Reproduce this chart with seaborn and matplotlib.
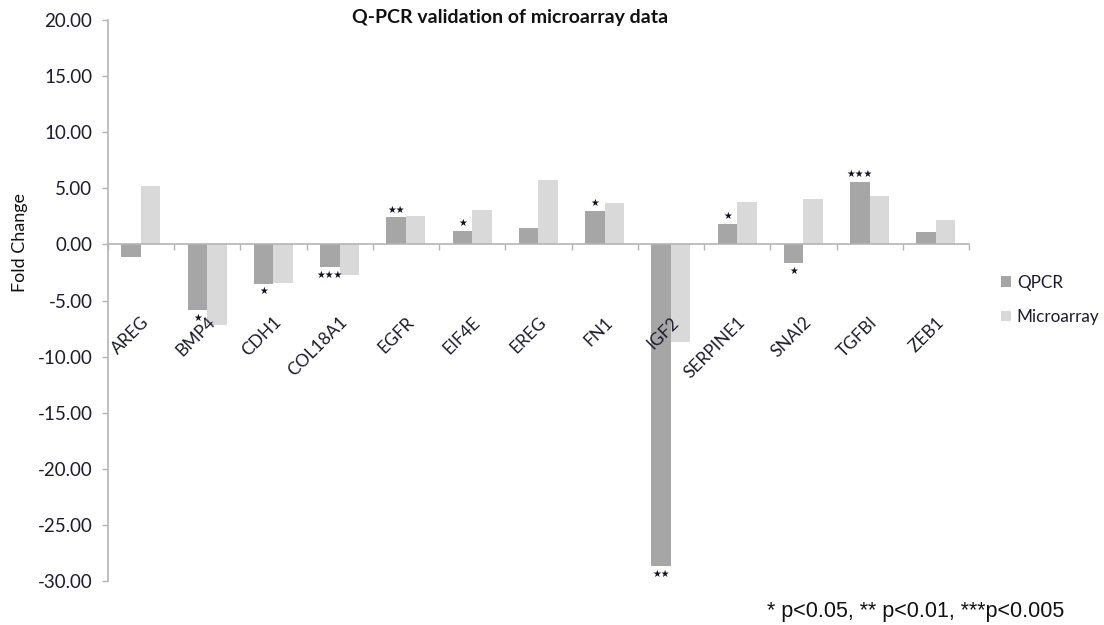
import matplotlib
matplotlib.use("Agg")
import matplotlib.pyplot as plt
from matplotlib.patches import Patch
from matplotlib.ticker import FormatStrFormatter, FixedLocator, NullFormatter
import seaborn as sns
import pandas as pd

# Fold change per gene, QPCR vs microarray
genes = ["AREG", "BMP4", "CDH1", "COL18A1", "EGFR", "EIF4E", "EREG",
         "FN1", "IGF2", "SERPINE1", "SNAI2", "TGFBI", "ZEB1"]
qpcr = [-1.15, -5.88, -3.50, -2.05, 2.41, 1.19, 1.46,
        3.00, -28.70, 1.84, -1.66, 5.58, 1.07]
microarray = [5.17, -7.18, -3.47, -2.76, 2.56, 3.09, 5.70,
              3.72, -8.67, 3.77, 4.01, 4.30, 2.17]
# significance of the QPCR change
significance = ["", "*", "*", "***", "**", "*", "",
                "*", "**", "*", "*", "***", ""]
methods = ["QPCR", "Microarray"]
yticks = [20, 15, 10, 5, 0, -5, -10, -15, -20, -25, -30]

colors = {"QPCR": "#A6A6A6", "Microarray": "#D9D9D9"}
text_color = "#1c1c2c"
axis_color = "#B4B4B4"

df = pd.DataFrame({
    "gene": genes * 2,
    "fold": qpcr + microarray,
    "method": ["QPCR"] * len(genes) + ["Microarray"] * len(genes),
})

sns.set_theme(style="white")
plt.rcParams["font.family"] = ["Lato", "DejaVu Sans"]

fig = plt.figure(figsize=(11.04, 6.25), dpi=100)
ax = fig.add_axes([107.75 / 1104, 1 - 581 / 625, (969 - 107.75) / 1104, 561 / 625])

sns.barplot(data=df, x="gene", y="fold", hue="method", hue_order=methods,
            order=genes, palette=colors, width=0.59, errorbar=None,
            linewidth=0, saturation=1, legend=False, ax=ax)

ax.set_xlim(-0.5, len(genes) - 0.5)
ax.set_ylim(-30, 20)
ax.set_xlabel("")
ax.set_ylabel("")

# spines: category axis crosses at zero
for side in ["top", "right"]:
    ax.spines[side].set_visible(False)
ax.spines["bottom"].set_position(("data", 0))
for side in ["left", "bottom"]:
    ax.spines[side].set_color(axis_color)
    ax.spines[side].set_linewidth(1.2)

ax.set_yticks(yticks)
ax.yaxis.set_major_formatter(FormatStrFormatter("%.2f"))
ax.tick_params(axis="y", direction="out", length=4, width=1, color=axis_color,
               labelsize=13.5, labelcolor=text_color, pad=7, left=True)

# category boundary ticks, labels drawn separately
ax.xaxis.set_major_locator(FixedLocator([i + 0.5 for i in range(-1, len(genes))]))
ax.xaxis.set_major_formatter(NullFormatter())
ax.tick_params(axis="x", direction="out", length=4, width=1, color=axis_color,
               bottom=True)

for i, g in enumerate(genes):
    ax.text(i + 0.08, -6.7, g, rotation=45, rotation_mode="anchor",
            ha="right", va="center", fontsize=12.5, color=text_color)

# significance stars on the QPCR bars
for bar, val, sig in zip(ax.containers[0], qpcr, significance):
    if not sig:
        continue
    xc = bar.get_x() + bar.get_width() / 2
    off = 5.5 if val > 0 else -5.5
    ax.annotate("\u2605" * len(sig), xy=(xc, val), xytext=(0, off),
                textcoords="offset points", ha="center", va="center",
                fontsize=7, color="#111122", family="DejaVu Sans")

fig.text(510 / 1104, 1 - 17 / 625, "Q-PCR validation of microarray data",
         ha="center", va="center", fontsize=14, fontweight="bold",
         color="#111111")
fig.text(20 / 1104, 1 - 242 / 625, "Fold Change", rotation=90,
         ha="center", va="center", fontsize=13, color="#111111")

handles = [Patch(facecolor=colors[m], edgecolor="none", label=m) for m in methods]
fig.legend(handles=handles, loc="center left",
           bbox_to_anchor=(986 / 1104, 1 - 300 / 625), frameon=False,
           handlelength=0.55, handleheight=0.55, handletextpad=0.35,
           labelspacing=1.1, fontsize=12.3, labelcolor=text_color)

fig.text(767 / 1104, 1 - 612 / 625, "* p<0.05, ** p<0.01, ***p<0.005",
         ha="left", va="center", fontsize=15.5, color="#111111",
         family="Liberation Sans")

fig.savefig("out.png", dpi=100)
